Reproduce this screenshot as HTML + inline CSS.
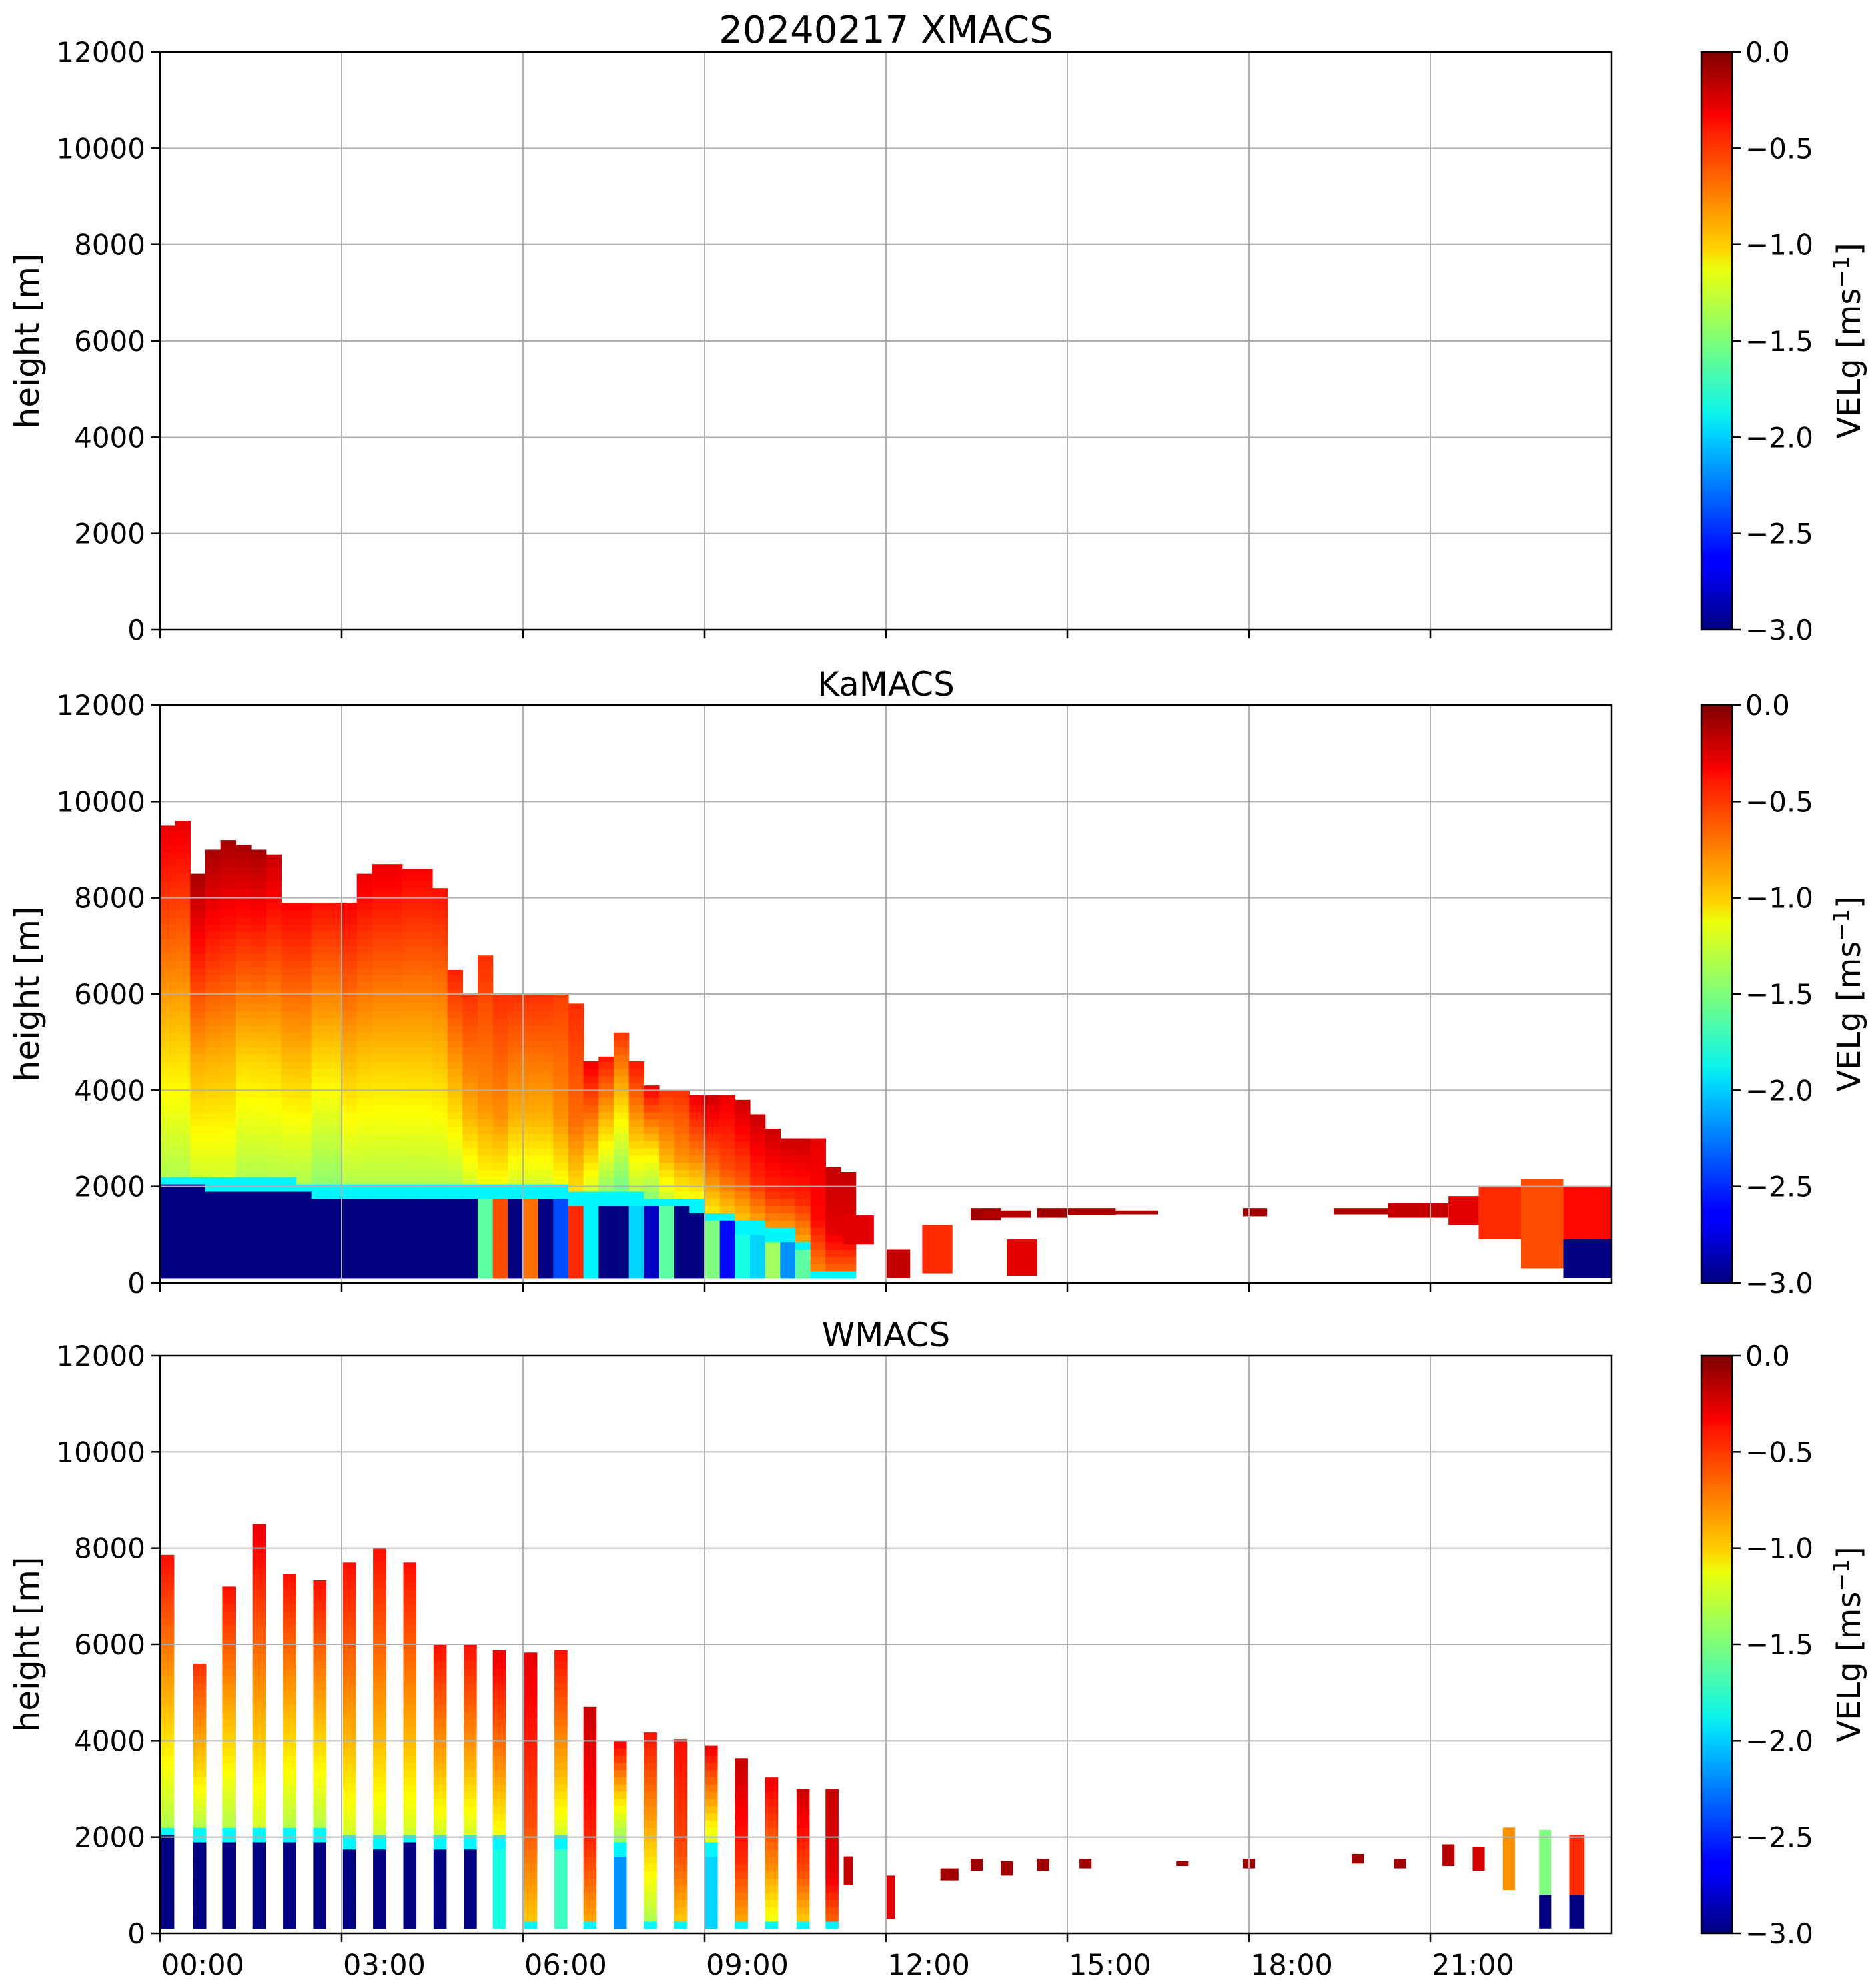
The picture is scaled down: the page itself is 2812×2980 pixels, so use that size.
<!DOCTYPE html>
<html><head><meta charset="utf-8"><style>
html,body{margin:0;padding:0;background:#fff}
svg{display:block;font-family:"DejaVu Sans","Liberation Sans",sans-serif}
</style></head><body>
<svg id="fig" width="2812" height="2980" viewBox="0 0 2812 2980" xmlns="http://www.w3.org/2000/svg">
<defs>
<linearGradient id="jetg" x1="0" y1="1" x2="0" y2="0">
<stop offset="0" stop-color="#00007f"/><stop offset="0.11" stop-color="#0000ff"/><stop offset="0.125" stop-color="#0000ff"/>
<stop offset="0.34" stop-color="#00d4ff"/><stop offset="0.375" stop-color="#0cf4eb"/><stop offset="0.5" stop-color="#7dff7a"/>
<stop offset="0.625" stop-color="#ebff0c"/><stop offset="0.66" stop-color="#ffd200"/><stop offset="0.875" stop-color="#ff1300"/>
<stop offset="0.89" stop-color="#fa0000"/><stop offset="1" stop-color="#7f0000"/>
</linearGradient>
</defs>
<g id="root"></g>
</svg>
<script>
// ---- data ----
const xTickLabels = ["00:00","03:00","06:00","09:00","12:00","15:00","18:00","21:00"];
const yTickLabels = [0,2000,4000,6000,8000,10000,12000];
const cbTickLabels = [0.0,-0.5,-1.0,-1.5,-2.0,-2.5,-3.0];
const panelTitles = ["20240217 XMACS","KaMACS","WMACS"];

// KaMACS columns (0.25 h bins starting at 00:00)
const kaTop = [9500,9600,8500,9000,9200,9100,9000,8900,7900,7900,7900,7900,7900,8500,8700,8700,8600,8600,8200,6500,6000,6800,6000,6000,6000,6000,6000,5800,4600,4700,5200,4600,4100,4000,4000,3900,3900,3900,3800,3500,3200,3000,3000,3000,2400,2300];
const kaRainTop = [1950,1950,1950,1900,1900,1900,1900,1850,1850,1800,1750,1750,1750,1750,1750,1750,1750,1750,1750,1750,1750,1700,1700,1700,1700,1700,1700,1600,1600,1600,1600,1600,1500,1500,1500,1400,1200,1200,1000,1000,800,800,600,0,0,0];
const kaLowVel = [-3,-3,-3,-3,-3,-3,-3,-3,-3,-3,-3,-3,-3,-3,-3,-3,-3,-3,-3,-3,-3,-1.6,-0.6,-3,-0.7,-3,-2.4,-0.5,-1.9,-3,-3,-2.0,-2.8,-1.6,-3,-3,-1.5,-2.6,-1.8,-2.0,-1.4,-2.2,-1.6,-0.5,-0.4,-0.3];
const kaTopVel = [-0.3,-0.3,-0.1,-0.1,-0.1,-0.1,-0.1,-0.2,-0.35,-0.35,-0.4,-0.4,-0.35,-0.3,-0.3,-0.3,-0.35,-0.35,-0.4,-0.45,-0.5,-0.5,-0.5,-0.5,-0.5,-0.5,-0.55,-0.5,-0.3,-0.4,-0.5,-0.4,-0.3,-0.5,-0.5,-0.3,-0.2,-0.3,-0.2,-0.2,-0.2,-0.2,-0.2,-0.3,-0.2,-0.2];
const kaMidVel = [-1.0,-1.0,-0.9,-0.9,-0.9,-1.0,-1.0,-1.0,-1.0,-1.0,-1.1,-1.1,-1.0,-1.0,-1.0,-1.0,-1.0,-1.0,-1.0,-1.0,-0.9,-0.8,-0.8,-0.9,-0.9,-0.9,-0.8,-0.7,-0.9,-1.1,-1.2,-1.0,-1.1,-0.9,-0.8,-0.8,-0.7,-0.6,-0.6,-0.5,-0.5,-0.5,-0.5,-0.4,-0.3,-0.3];

// KaMACS isolated low cloud patches (hours, metres, m/s)
const kaPStart = [11.3,12.0,12.6,13.4,13.6,14.0,14.5,15.0,15.8,17.9,19.4,20.3,21.3,21.8,22.5,23.2];
const kaPEnd   = [11.8,12.4,13.1,13.9,14.4,14.5,15.0,15.8,16.5,18.3,20.3,21.3,21.8,22.5,23.2,24.0];
const kaPBase  = [800,100,200,1300,1350,150,1350,1400,1420,1380,1420,1350,1200,900,300,900];
const kaPTop   = [1400,700,1200,1550,1500,900,1550,1550,1500,1550,1550,1650,1800,2000,2150,2000];
const kaPVel   = [-0.3,-0.2,-0.5,-0.1,-0.15,-0.3,-0.1,-0.12,-0.15,-0.1,-0.15,-0.2,-0.3,-0.5,-0.6,-0.4];
const kaPRain  = [0,0,0,0,0,0,0,0,0,0,0,0,0,0,0,900];

// WMACS stripes
const wStart = [0.02,0.55,1.03,1.53,2.03,2.53,3.02,3.52,4.02,4.52,5.02,5.5,6.02,6.52,7.0,7.5,8.0,8.5,9.0,9.5,10.0,10.52,11.0];
const wTop   = [7860,5600,7200,8500,7460,7330,7700,8000,7700,6000,6000,5880,5830,5880,4700,4000,4170,4030,3900,3640,3240,3000,3000];
const wRain  = [1950,1900,1900,1900,1850,1850,1750,1750,1800,1750,1750,1750,0,1700,0,1600,0,0,1600,0,0,0,0];
const wLowVel= [-3,-3,-3,-3,-3,-3,-3,-3,-3,-3,-3,-1.8,-0.5,-1.7,-0.8,-2.2,-1.6,-0.4,-2.0,-0.3,-1.7,-0.5,-0.3];
const wTopVel= [-0.4,-0.5,-0.4,-0.3,-0.4,-0.4,-0.4,-0.4,-0.4,-0.4,-0.4,-0.3,-0.3,-0.4,-0.2,-0.3,-0.4,-0.4,-0.3,-0.2,-0.3,-0.2,-0.2];
const wMidVel= [-1.0,-1.0,-1.0,-0.9,-1.0,-1.0,-0.9,-0.9,-0.9,-0.9,-0.9,-0.8,-0.6,-0.9,-0.5,-1.1,-1.0,-0.6,-0.9,-0.5,-0.8,-0.6,-0.3];
const wPStart = [11.3,12.0,12.9,13.4,13.9,14.5,15.2,16.8,17.9,19.7,20.4,21.2,21.7,22.2,22.8,23.3];
const wPEnd   = [11.45,12.15,13.2,13.6,14.1,14.7,15.4,17.0,18.1,19.9,20.6,21.4,21.9,22.4,23.0,23.55];
const wPBase  = [1000,300,1100,1300,1200,1300,1350,1400,1350,1450,1350,1400,1300,900,100,800];
const wPTop   = [1600,1200,1350,1550,1500,1550,1550,1500,1550,1650,1550,1850,1800,2200,2150,2050];
const wPVel   = [-0.2,-0.3,-0.1,-0.1,-0.1,-0.1,-0.1,-0.1,-0.1,-0.1,-0.1,-0.15,-0.25,-0.8,-1.5,-0.5];
const wPRain  = [0,0,0,0,0,0,0,0,0,0,0,0,0,0,800,800];

// ---- layout ----
const L=240,R=2416,PH=866,tops=[78,1057,2032];
const CBX=2550,CBW=46;
const NS="http://www.w3.org/2000/svg";
const root=document.getElementById('root');
function el(tag,attrs,parent){const e=document.createElementNS(NS,tag);for(const k in attrs)e.setAttribute(k,attrs[k]);(parent||root).appendChild(e);return e;}
function jet(v){let t=Math.max(0,Math.min(1,(v+3)/3));const c=x=>Math.round(255*Math.max(0,Math.min(1,x)));
 return `rgb(${c(1.5-Math.abs(4*t-3))},${c(1.5-Math.abs(4*t-2))},${c(1.5-Math.abs(4*t-1))})`;}
const xs=h=>L+(R-L)*h/24;
function ys(p){return z=>tops[p]+PH-PH*z/12000;}

function drawColumn(g,p,t0,t1,top,rain,lowVel,midVel,topVel){
 const y=ys(p);const step=150;
 const b0=rain+250;
 for(let z=100;z<top;z+=step){
  const z1=Math.min(z+step,top);let v;
  if(z<rain)v=lowVel;
  else if(z<rain+250)v=-1.9;
  else {
   const f=Math.min(1,Math.max(0,(z-b0)/Math.max(1,top-b0)));
   const lowV=midVel-0.35;
   v=f<0.35? lowV+(midVel-lowV)*(f/0.35) : midVel+(topVel-midVel)*((f-0.35)/0.65);
  }
  const r=el('rect',{x:xs(t0).toFixed(1),y:y(z1).toFixed(1),width:(xs(t1)-xs(t0)+0.6).toFixed(1),height:(y(z)-y(z1)+0.6).toFixed(1),fill:jet(v)},g);
  
  
 }
}
function drawPatch(g,p,t0,t1,base,top,vel,rain){
 const y=ys(p);
 if(rain>0){const r=el('rect',{x:xs(t0),y:y(rain),width:xs(t1)-xs(t0),height:y(100)-y(rain),fill:jet(-3)},g);
  }
 const r=el('rect',{x:xs(t0),y:y(top),width:xs(t1)-xs(t0),height:y(Math.max(base,rain))-y(top),fill:jet(vel)},g);
 
 
}

for(let p=0;p<3;p++){
 const T=tops[p],B=T+PH,y=ys(p);
 const g=el('g',{});
 
 
 const data=el('g',{},g);
 if(p===1){
  for(let i=0;i<kaTop.length;i++)drawColumn(data,p,i*0.25,i*0.25+0.25,kaTop[i],kaRainTop[i],kaLowVel[i],kaMidVel[i],kaTopVel[i]);
  for(let i=0;i<kaPStart.length;i++)drawPatch(data,p,kaPStart[i],kaPEnd[i],kaPBase[i],kaPTop[i],kaPVel[i],kaPRain[i]);
 }
 if(p===2){
  for(let i=0;i<wStart.length;i++)drawColumn(data,p,wStart[i],wStart[i]+0.21,wTop[i],wRain[i],wLowVel[i],wMidVel[i],wTopVel[i]);
  for(let i=0;i<wPStart.length;i++)drawPatch(data,p,wPStart[i],wPEnd[i],wPBase[i],wPTop[i],wPVel[i],wPRain[i]);
 }
 xTickLabels.forEach((lab,i)=>{const x=xs(i*3);
  if(i>0){const gl=el('line',{x1:x,x2:x,y1:T,y2:B,stroke:'#b0b0b0','stroke-width':2},g);}
  el('line',{x1:x,x2:x,y1:B,y2:B+13,stroke:'#000','stroke-width':2.5},g);
  if(p===2){const t=el('text',{x:x+2,y:B+62,'font-size':43,fill:'#000'},g);t.textContent=lab;
   }
 });
 yTickLabels.forEach(v=>{const yy=y(v);
  if(v>0&&v<12000){const gl=el('line',{x1:L,x2:R,y1:yy,y2:yy,stroke:'#b0b0b0','stroke-width':2},g);}
  el('line',{x1:L-13,x2:L,y1:yy,y2:yy,stroke:'#000','stroke-width':2.5},g);
  const t=el('text',{x:L-22,y:yy+15,'font-size':42,'text-anchor':'end',fill:'#000'},g);t.textContent=v;
  
 });
 const sp=el('rect',{x:L,y:T,width:R-L,height:PH,fill:'none',stroke:'#000','stroke-width':2.5},g);
 
 const tt=el('text',{x:(L+R)/2,y:T-14,'font-size':p===0?56:50,'text-anchor':'middle',fill:'#000'},g);tt.textContent=panelTitles[p];
 
 const yl=el('text',{x:0,y:0,'font-size':50,'text-anchor':'middle',fill:'#000',transform:`translate(58,${T+PH/2}) rotate(-90)`},g);yl.textContent='height [m]';
 
 const cb=el('rect',{x:CBX,y:T,width:CBW,height:PH,fill:'url(#jetg)',stroke:'#000','stroke-width':2.5},g);
 
 cbTickLabels.forEach(v=>{const yy=T+PH*(-v/3);
  el('line',{x1:CBX+CBW,x2:CBX+CBW+13,y1:yy,y2:yy,stroke:'#000','stroke-width':2.5},g);
  const t=el('text',{x:CBX+CBW+20,y:yy+15,'font-size':42,fill:'#000'},g);t.textContent=(v===0?'0.0':'\u2212'+Math.abs(v).toFixed(1));
  
 });
 const cl=el('text',{x:0,y:0,'font-size':48,'text-anchor':'middle',fill:'#000',transform:`translate(2788,${T+PH/2}) rotate(-90)`},g);
 cl.innerHTML='VELg [ms<tspan dy="-17" font-size="33">\u22121</tspan><tspan dy="17">]</tspan>';
 
}
</script>
</body></html>
